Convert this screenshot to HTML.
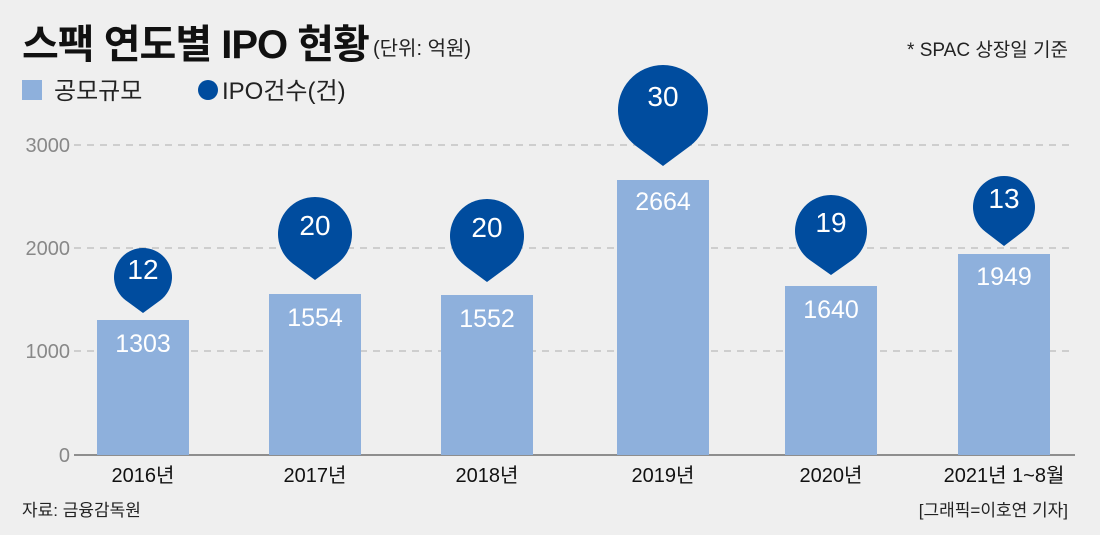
<!DOCTYPE html>
<html><head><meta charset="utf-8"><style>
body{margin:0;width:1100px;height:535px;background:#efefef;overflow:hidden}
svg{display:block;font-family:"Liberation Sans","Noto Sans CJK KR",sans-serif}
</style></head><body>
<svg width="1100" height="535" viewBox="0 0 1100 535">
<rect width="1100" height="535" fill="#efefef"/>
<text x="22" y="58" font-size="40" font-weight="bold" fill="#111" letter-spacing="-1">스팩 연도별 IPO 현황</text>
<text x="373" y="55" font-size="20" fill="#222">(단위: 억원)</text>
<text x="1068" y="56" font-size="19" fill="#222" text-anchor="end">* SPAC 상장일 기준</text>
<rect x="22" y="80" width="20" height="20" fill="#8eb0dc"/>
<text x="54" y="99" font-size="24" fill="#222">공모규모</text>
<circle cx="208" cy="90" r="10" fill="#004c9e"/>
<text x="222" y="99" font-size="24" fill="#222">IPO건수(건)</text>
<g stroke="#bbb" stroke-width="1.3" stroke-dasharray="7,6">
<line x1="74" y1="145" x2="1075" y2="145"/><line x1="74" y1="248" x2="1075" y2="248"/><line x1="74" y1="351" x2="1075" y2="351"/>
</g>
<line x1="74" y1="455" x2="1075" y2="455" stroke="#555" stroke-width="1.3"/>
<g font-size="20" fill="#888" text-anchor="end">
<text x="70" y="152">3000</text><text x="70" y="255">2000</text><text x="70" y="358">1000</text><text x="70" y="462">0</text>
</g>
<g fill="#8eb0dc">
<rect x="97" y="320" width="92" height="135"/><rect x="269" y="294" width="92" height="161"/>
<rect x="441" y="295" width="92" height="160"/><rect x="617" y="180" width="92" height="275"/>
<rect x="785" y="286" width="92" height="169"/><rect x="958" y="254" width="92" height="201"/>
</g>
<g font-size="25" fill="#fff" text-anchor="middle">
<text x="143" y="352">1303</text><text x="315" y="326">1554</text><text x="487" y="327">1552</text>
<text x="663" y="210">2664</text><text x="831" y="318">1640</text><text x="1004" y="285">1949</text>
</g>
<g fill="#004c9e">
<path d="M143 313 L125.6 300.2 A29 29 0 1 1 160.4 300.2 Z"/>
<path d="M315 280 L292.8 263.6 A37 37 0 1 1 337.2 263.6 Z"/>
<path d="M487 282 L464.8 265.6 A37 37 0 1 1 509.2 265.6 Z"/>
<path d="M663 166 L636 146 A45 45 0 1 1 690 146 Z"/>
<path d="M831 275 L809.4 259.8 A36 36 0 1 1 852.6 259.8 Z"/>
<path d="M1004 246 L985.4 231.8 A31 31 0 1 1 1022.6 231.8 Z"/>
</g>
<g font-size="28" fill="#fff" text-anchor="middle">
<text x="143" y="279">12</text><text x="315" y="235">20</text><text x="487" y="237">20</text>
<text x="663" y="106">30</text><text x="831" y="232">19</text><text x="1004" y="208">13</text>
</g>
<g font-size="20" fill="#111" text-anchor="middle">
<text x="143" y="482">2016년</text><text x="315" y="482">2017년</text><text x="487" y="482">2018년</text>
<text x="663" y="482">2019년</text><text x="831" y="482">2020년</text><text x="1004" y="482">2021년 1~8월</text>
</g>
<text x="22" y="516" font-size="17" fill="#222">자료: 금융감독원</text>
<text x="1068" y="516" font-size="17" fill="#222" text-anchor="end">[그래픽=이호연 기자]</text>
</svg>
</body></html>
